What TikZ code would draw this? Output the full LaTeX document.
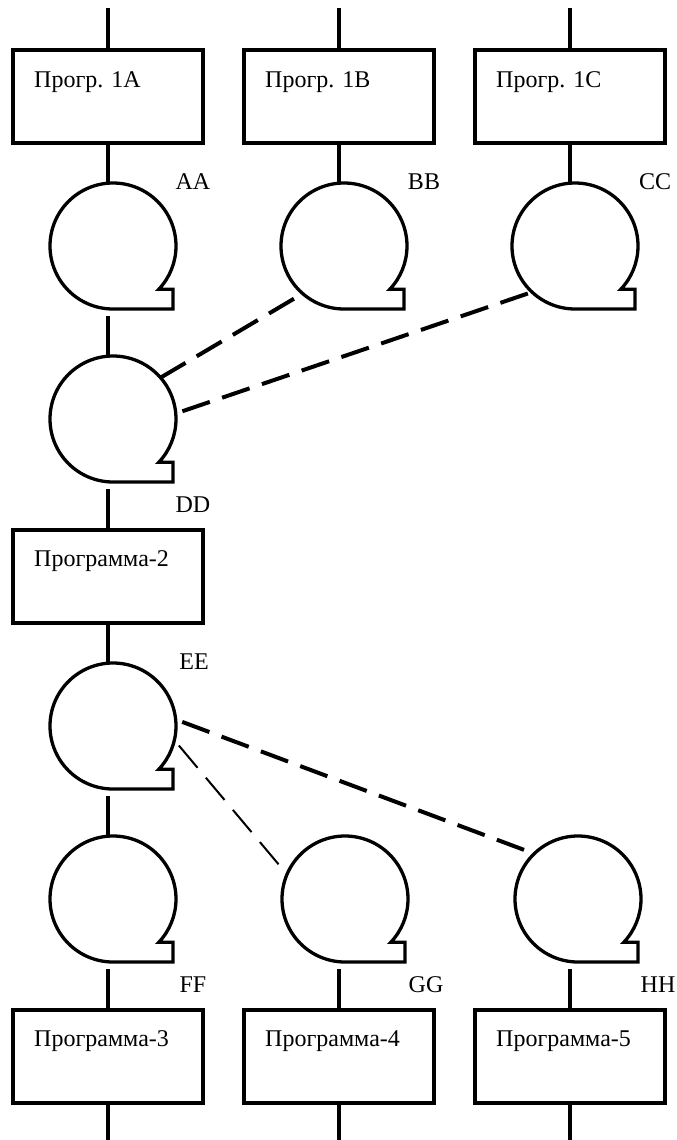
\documentclass[tikz,border=0pt]{standalone}
\usepackage{fontspec}
\setmainfont{Liberation Serif}
\usepackage{tikz}

\begin{document}
\begin{tikzpicture}[x=1pt, y=1pt, every node/.style={font=\fontsize{24}{28}\selectfont},
        prog/.style={draw, line width=4pt, minimum width=190pt, minimum height=93pt, inner sep=0pt, outer sep=0pt},
        progtext/.style={anchor=base west, inner sep=0pt},
        tape/.style={circle, minimum size=126pt, inner sep=0pt, outer sep=0pt},
        tapeline/.style={line width=3.3pt, line join=miter},
        tapelabel/.style={inner sep=0pt},
        link/.style={line width=4.5pt},
        dashline/.style={line width=4pt, dash pattern=on 29pt off 13pt},
        thindash/.style={line width=2pt, dash pattern=on 29pt off 13pt}]
        \useasboundingbox (0,0) rectangle (677,-1140);
        \node[prog] (p1a) at (108,-96.5) {};
        \node[prog] (p1b) at (339,-96.5) {};
        \node[prog] (p1c) at (570,-96.5) {};
        \node[progtext] (t1a) at ([shift={(21,-37)}]p1a.north west) {Прогр. 1A};
        \node[progtext] (t1b) at ([shift={(21,-37)}]p1b.north west) {Прогр. 1B};
        \node[progtext] (t1c) at ([shift={(21,-37)}]p1c.north west) {Прогр. 1C};
        \node[prog] (p2) at (108,-576) {};
        \node[progtext] (t2) at ([shift={(21,-37)}]p2.north west) {Программа-2};
        \node[prog] (p3) at (108,-1056) {};
        \node[prog] (p4) at (339,-1056) {};
        \node[prog] (p5) at (570,-1056) {};
        \node[progtext] (t3) at ([shift={(21,-37)}]p3.north west) {Программа-3};
        \node[progtext] (t4) at ([shift={(21,-37)}]p4.north west) {Программа-4};
        \node[progtext] (t5) at ([shift={(21,-37)}]p5.north west) {Программа-5};
        \node[tape] (aa) at (113,-246) {};
        \node[tape] (bb) at (344,-246) {};
        \node[tape] (cc) at (575,-246) {};
        \node[tape] (dd) at (113,-419) {};
        \node[tape] (ee) at (113,-726) {};
        \node[tape] (ff) at (113,-899) {};
        \node[tape] (gg) at (345,-899) {};
        \node[tape] (hh) at (578,-899) {};
        \foreach \t in {aa,bb,cc,dd,ee,ff,gg,hh}
            \draw[tapeline] (\t.south) arc[start angle=270, end angle=-43.4, radius=63]
                -- ([shift={(60,-43.3)}]\t.center) -- ([shift={(60,-63)}]\t.center) -- cycle;
        \node[tapelabel] (laa) at ([shift={(80,64)}]aa.center) {AA};
        \node[tapelabel] (lbb) at ([shift={(80,64)}]bb.center) {BB};
        \node[tapelabel] (lcc) at ([shift={(80,64)}]cc.center) {CC};
        \node[tapelabel] (ldd) at ([shift={(80,-86)}]dd.center) {DD};
        \node[tapelabel] (lee) at ([shift={(81,64)}]ee.center) {EE};
        \node[tapelabel] (lff) at ([shift={(80,-86)}]ff.center) {FF};
        \node[tapelabel] (lgg) at ([shift={(81,-86)}]gg.center) {GG};
        \node[tapelabel] (lhh) at ([shift={(80,-86)}]hh.center) {HH};
        \coordinate (in1a) at (108,-8);
        \coordinate (in1b) at (339,-8);
        \coordinate (in1c) at (570,-8);
        \coordinate (out3) at (108,-1140);
        \coordinate (out4) at (339,-1140);
        \coordinate (out5) at (570,-1140);
        \draw[link] (in1a) -- (p1a.north);
        \draw[link] (in1b) -- (p1b.north);
        \draw[link] (in1c) -- (p1c.north);
        \draw[link] (p1a.south) -- (p1a.south |- aa.north);
        \draw[link] (p1b.south) -- (p1b.south |- bb.north);
        \draw[link] (p1c.south) -- (p1c.south |- cc.north);
        \draw[link, shorten <=7pt] (aa.south -| p1a.south) -- (dd.north -| p1a.south);
        \draw[link, shorten <=7pt] (dd.south -| p2.north) -- (p2.north);
        \draw[link] (p2.south) -- (p2.south |- ee.north);
        \draw[link, shorten <=7pt] (ee.south -| p2.south) -- (ff.north -| p2.south);
        \draw[link, shorten <=7pt] (ff.south -| p3.north) -- (p3.north);
        \draw[link, shorten <=7pt] (gg.south -| p4.north) -- (p4.north);
        \draw[link, shorten <=7pt] (hh.south -| p5.north) -- (p5.north);
        \draw[link] (p3.south) -- (out3);
        \draw[link] (p4.south) -- (out4);
        \draw[link] (p5.south) -- (out5);
        \draw[dashline] (dd.41) -- (bb.229);
        \draw[dashline, shorten <=7pt] (dd.5) -- (cc.227);
        \draw[dashline, shorten <=7pt] (ee.6) -- (hh.134);
        \draw[thindash, shorten <=7pt] (ee.-13) -- (gg.157);
    \end{tikzpicture}
\end{document}
